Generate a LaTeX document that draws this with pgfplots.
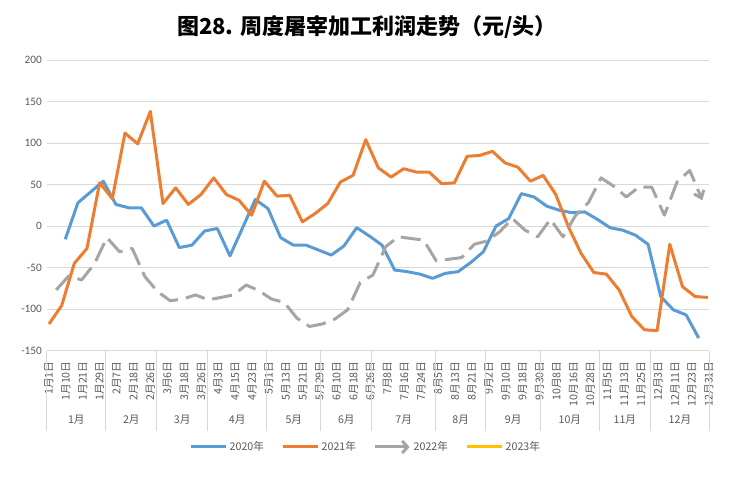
\documentclass[border=0pt]{standalone}
\usepackage{pgfplots}
\pgfplotsset{compat=1.18}
\usepackage{pgfplotstable}
\usetikzlibrary{arrows.meta}
\usepackage{fontspec}
\setmainfont{Noto Sans CJK SC}
\newfontfamily\numfont{Carlito}
\definecolor{c2020}{HTML}{5B9BD5}
\definecolor{c2021}{HTML}{ED7D31}
\definecolor{c2022}{HTML}{A5A5A5}
\definecolor{c2023}{HTML}{FFC000}
\definecolor{gridc}{HTML}{D9D9D9}
\definecolor{labc}{HTML}{595959}

\pgfplotstableread{
x y
9 -16
16 28
23 41
30 54
37 26
44 22
51 22
58 0
65 7
72 -26
79 -23
86 -6
93 -3
100 -36
107 -2
114 32
121 21
128 -14
135 -23
142 -23
149 -29
156 -35
163 -24
170 -2
177 -12
184 -23
191 -53
198 -55
205 -58
212 -63
219 -57
226 -55
233 -44
240 -31
247 0
254 9
261 39
268 35
275 24
282 19
289 16
296 17
303 8
310 -2
317 -5
324 -11
331 -22
338 -85
345 -101
352 -107
359 -135
}\dataA

\pgfplotstableread{
x y
0 -118
7 -96
14 -45
21 -27
28 52
35 33
42 112
49 99
56 138
63 27
70 46
77 26
84 38
91 58
98 38
105 31
112 13
119 54
126 36
133 37
140 5
147 15
154 27
161 53
168 61
175 104
182 70
189 59
196 69
203 65
210 65
217 51
224 52
231 84
238 85
245 90
252 76
259 71
266 54
273 61
280 38
287 -1
294 -33
301 -56
308 -58
315 -77
322 -109
329 -125
336 -126
343 -22
350 -73
357 -85
364 -86
}\dataB

\pgfplotstableread{
x y
4 -77
11 -60
18 -65
25 -46
32 -14
39 -31
46 -27
53 -61
60 -79
67 -90
74 -88
81 -83
88 -89
95 -86
102 -83
109 -71
116 -78
123 -88
130 -92
137 -111
144 -121
151 -118
158 -112
165 -101
172 -68
179 -59
186 -25
193 -13
200 -15
207 -17
214 -42
221 -40
228 -38
235 -22
242 -18
249 -7
256 9
263 -5
270 -13
277 8
284 -13
291 13
298 28
305 58
312 48
319 35
326 47
333 47
340 13
347 53
354 67
361 31
}\dataC

\begin{document}
\begin{tikzpicture}[x=1pt,y=1pt]
\useasboundingbox (0,0) rectangle (552,364.5);
\node[font=\bfseries\fontsize{16.5}{20}\selectfont] at (275.25,344.25) {图28. 周度屠宰加工利润走势（元/头）};
\begin{axis}[
  at={(35pt,101.6pt)}, anchor=south west,
  scale only axis, width=496.95pt, height=217.9pt,
  xmin=-1.27, xmax=364.81, ymin=-150, ymax=200,
  axis x line*=bottom, axis y line*=left,
  y axis line style={draw=none},
  x axis line style={draw=gridc, line width=0.75pt},
  ytick={-150,-100,...,200},
  ymajorgrids, grid style={draw=gridc, line width=0.75pt},
  ytick style={draw=none}, xtick style={draw=none},
  /pgf/number format/assume math mode=true,
  yticklabel style={font=\numfont\fontsize{8.5}{10}\selectfont, text=labc},
  xtick={0,9.348,18.696,28.044,37.392,46.74,56.088,65.436,74.784,84.132,93.48,102.828,112.176,121.524,130.872,140.22,149.568,158.916,168.264,177.612,186.96,196.308,205.656,215.004,224.352,233.7,243.048,252.396,261.744,271.092,280.44,289.788,299.136,308.484,317.832,327.18,336.528,345.876,355.224,364.572},
  xticklabels={1月1日,1月10日,1月21日,1月29日,2月7日,2月18日,2月26日,3月6日,3月18日,3月26日,4月3日,4月15日,4月23日,5月1日,5月13日,5月21日,5月29日,6月10日,6月18日,6月26日,7月8日,7月16日,7月24日,8月5日,8月13日,8月21日,9月2日,9月10日,9月18日,9月30日,10月8日,10月16日,10月28日,11月5日,11月13日,11月25日,12月3日,12月11日,12月23日,12月31日},
  xticklabel style={yshift=-7pt, rotate=90, anchor=east, font=\fontsize{8}{9}\selectfont, text=labc, inner sep=1pt},
  extra x ticks={-1.27,31.49,59.50,87.68,120.28,150.28,178.29,213.65,241.27,271.66,304.03,332.43,364.81},
  extra x tick labels={},
  extra x tick style={major tick length=60pt, tick align=outside, xtick style={draw=gridc, line width=0.75pt}},
  clip=false,
  legend style={at={(0.482,-0.332)}, anchor=center, legend columns=4, draw=none, fill=none,
    font=\fontsize{8}{10}\selectfont, text=labc,
    /tikz/every even column/.append style={column sep=11pt}},
  legend image code/.code={\draw[#1] (0pt,0pt) -- (26pt,0pt);},
  line join=round,
]
\addplot[c2020, line width=2.25pt] table[x=x,y=y] {\dataA};
\addlegendentry{2020年}
\addplot[c2021, line width=2.25pt] table[x=x,y=y] {\dataB};
\addlegendentry{2021年}
\addplot[c2022, line width=2.25pt, dash pattern=on 15pt off 6pt, -{Straight Barb[length=5pt,width=8pt]}, forget plot] table[x=x,y=y] {\dataC};
\addlegendimage{c2022, line width=2.25pt, -{Straight Barb[length=4pt,width=9pt]}}
\addlegendentry{2022年}
\addlegendimage{c2023, line width=2.25pt}
\addlegendentry{2023年}
\end{axis}
\begin{axis}[
  at={(35pt,101.6pt)}, anchor=south west,
  scale only axis, width=496.95pt, height=217.9pt,
  xmin=-1.27, xmax=364.81, ymin=-150, ymax=200,
  hide y axis, axis x line*=bottom, x axis line style={draw=none},
  xtick={15.11,45.5,73.6,104,135.3,164.3,196,227.5,256.5,287.8,318.2,348.6},
  xticklabels={1月,2月,3月,4月,5月,6月,7月,8月,9月,10月,11月,12月},
  xtick style={draw=none},
  xticklabel style={yshift=-45pt, font=\fontsize{8}{10}\selectfont, text=labc},
]
\end{axis}
\end{tikzpicture}
\end{document}
